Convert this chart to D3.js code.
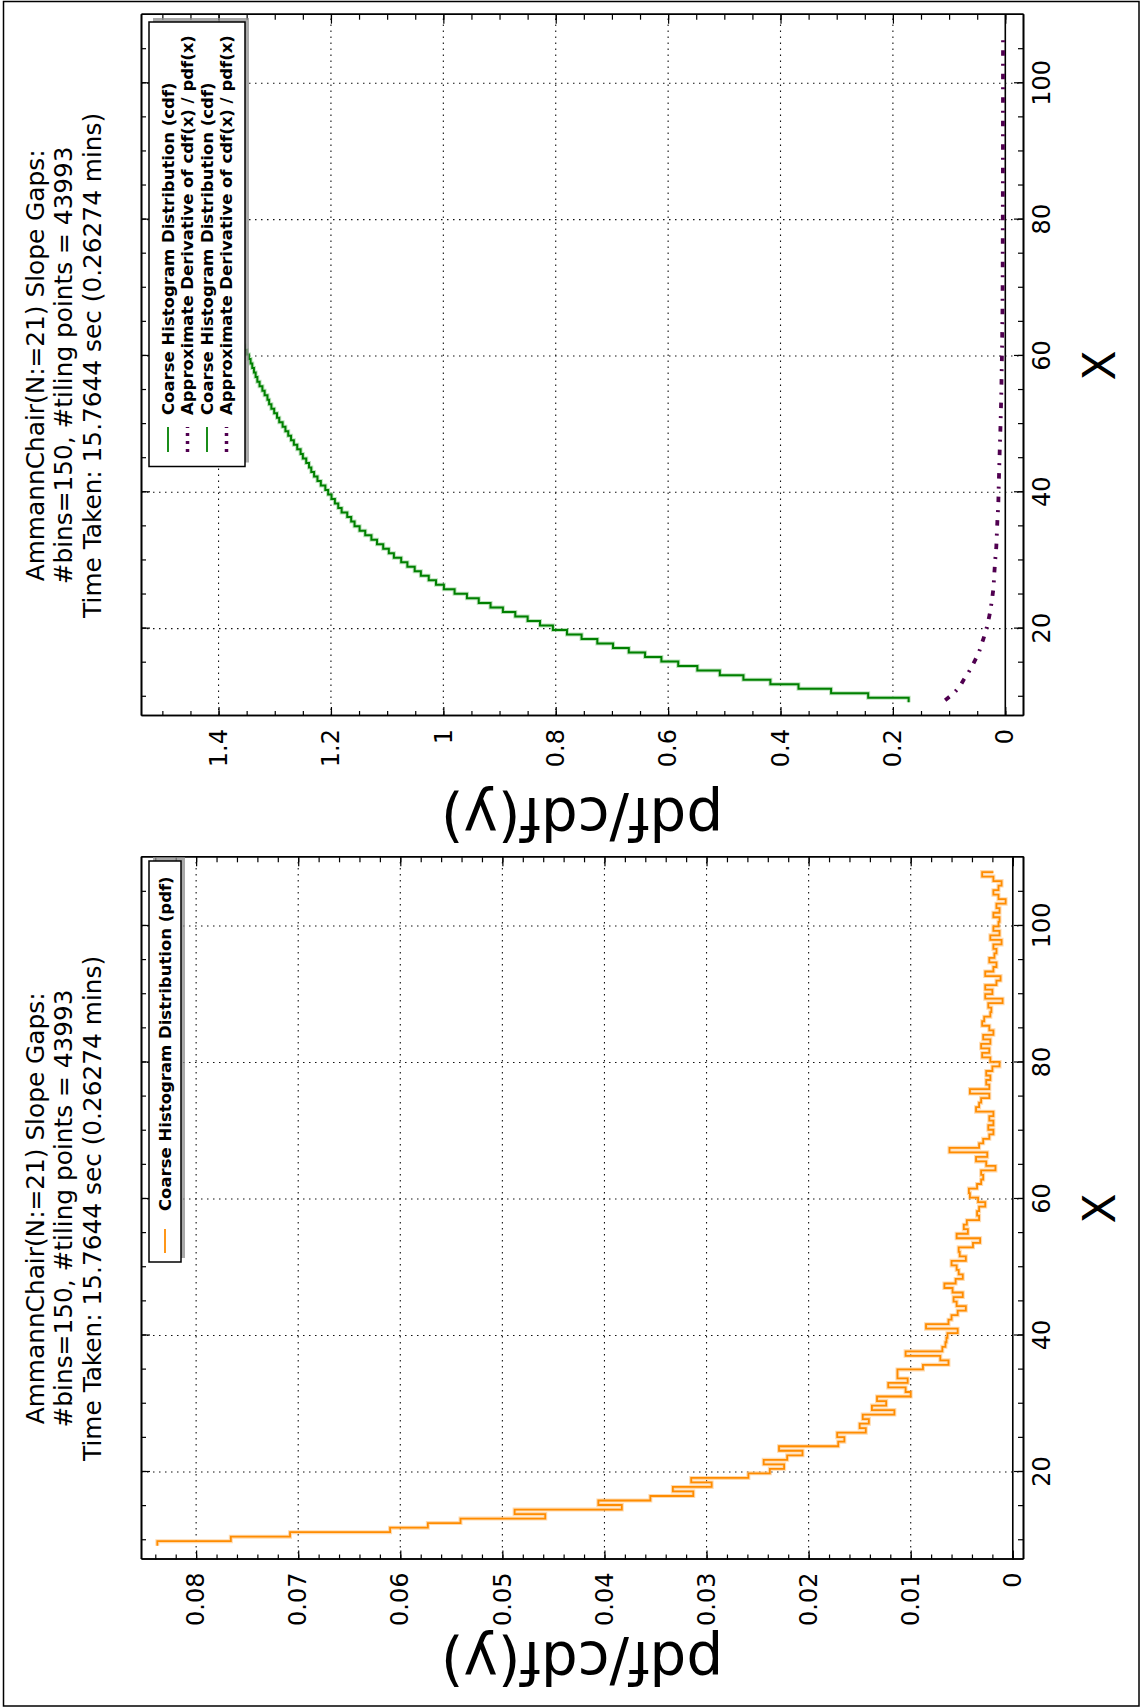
<!DOCTYPE html>
<html>
<head>
<meta charset="utf-8">
<script src="https://cdn.jsdelivr.net/npm/d3@7"></script>
<style>
  body { margin: 0; background: #fff; }
  svg { display: block; font-family: "DejaVu Sans", sans-serif; }
</style>
</head>
<body>
<svg id="chart" width="1142" height="1708"></svg>
<script>
// ---- data ----
const titleLines = [
  'AmmannChair(N:=21) Slope Gaps:',
  '#bins=150, #tiling points = 43993',
  'Time Taken: 15.7644 sec (0.26274 mins)'
];
const binStart = 9.2, binEnd = 107.9;
const xTicks = [20, 40, 60, 80, 100];
const pdfTicks = [0, 0.01, 0.02, 0.03, 0.04, 0.05, 0.06, 0.07, 0.08];
const cdfTicks = [0, 0.2, 0.4, 0.6, 0.8, 1, 1.2, 1.4];

// coarse histogram pdf, one value per bin
const pdfValues = [
  0.0838,0.0766,0.0708,0.0610,0.0573,0.0541,0.0458,0.0488,0.0383,0.0406,
  0.0355,0.0313,0.0333,0.0295,0.0315,0.0259,0.0238,0.0224,0.0244,0.0221,
  0.0206,0.0229,0.0171,0.0165,0.0172,0.0144,0.0150,0.0141,0.0147,0.0116,
  0.0138,0.0124,0.0133,0.0100,0.0105,0.0122,0.0103,0.0113,0.0113,0.0088,
  0.0063,0.0071,0.0105,0.0069,0.0066,0.0065,0.0064,0.0054,0.0085,0.0063,
  0.0060,0.0054,0.0046,0.0055,0.0058,0.0049,0.0059,0.0067,0.0056,0.0049,
  0.0053,0.0055,0.0060,0.0046,0.0052,0.0053,0.0039,0.0032,0.0055,0.0044,
  0.0048,0.0045,0.0033,0.0035,0.0033,0.0027,0.0034,0.0042,0.0043,0.0035,
  0.0031,0.0029,0.0031,0.0017,0.0026,0.0036,0.0025,0.0062,0.0033,0.0029,
  0.0023,0.0019,0.0024,0.0019,0.0023,0.0019,0.0036,0.0033,0.0031,0.0023,
  0.0042,0.0023,0.0026,0.0022,0.0026,0.0020,0.0013,0.0022,0.0030,0.0023,
  0.0031,0.0022,0.0029,0.0019,0.0023,0.0030,0.0028,0.0022,0.0021,0.0024,
  0.0010,0.0027,0.0020,0.0027,0.0016,0.0012,0.0027,0.0019,0.0016,0.0023,
  0.0018,0.0016,0.0019,0.0011,0.0022,0.0013,0.0019,0.0014,0.0013,0.0019,
  0.0013,0.0016,0.0007,0.0014,0.0019,0.0014,0.0011,0.0019,0.0030,0.0019
];

// coarse histogram cdf, one value per bin
const cdfValues = [
  0.172,0.244,0.310,0.368,0.418,0.466,0.508,0.548,0.582,0.612,
  0.641,0.670,0.698,0.726,0.754,0.780,0.805,0.828,0.850,0.872,
  0.894,0.916,0.937,0.958,0.980,0.999,1.013,1.026,1.040,1.051,
  1.064,1.075,1.088,1.097,1.107,1.118,1.128,1.139,1.149,1.158,
  1.164,1.171,1.181,1.187,1.193,1.199,1.205,1.210,1.218,1.224,
  1.230,1.235,1.239,1.244,1.250,1.254,1.260,1.266,1.271,1.276,
  1.281,1.286,1.292,1.296,1.301,1.306,1.310,1.313,1.318,1.322,
  1.327,1.331,1.334,1.337,1.340,1.343,1.346,1.350,1.354,1.357,
  1.360,1.363,1.366,1.368,1.370,1.374,1.376,1.382,1.385,1.388,
  1.390,1.392,1.394,1.396,1.398,1.400,1.403,1.406,1.409,1.411,
  1.415,1.419,1.422,1.424,1.426,1.428,1.430,1.432,1.434,1.437,
  1.439,1.442,1.444,1.447,1.449,1.451,1.454,1.456,1.458,1.460,
  1.463,1.464,1.467,1.469,1.472,1.473,1.474,1.477,1.479,1.481,
  1.483,1.485,1.486,1.488,1.489,1.491,1.493,1.495,1.496,1.497,
  1.499,1.500,1.502,1.503,1.504,1.506,1.507,1.508,1.510,1.513
];

// approximate derivative of cdf(x) / pdf(x)
const derivX = [9.5, 10.5, 11.5, 12.5, 13.5, 14.5, 15.5, 16.5, 17.5, 18.5,
  19.5, 20.5, 22, 24, 26, 28, 30, 32, 34, 36, 38, 40, 43, 46, 49, 52, 55,
  58, 61, 64, 67, 70, 74, 78, 82, 86, 90, 94, 98, 102, 106.5];
const derivY = [0.107, 0.092, 0.081, 0.074, 0.066, 0.059, 0.053, 0.047, 0.043, 0.039,
  0.035, 0.032, 0.028, 0.024, 0.021, 0.0196, 0.018, 0.016, 0.015, 0.014, 0.0125, 0.012,
  0.011, 0.010, 0.0088, 0.0078, 0.0070, 0.0064, 0.0058, 0.0054, 0.0050, 0.0048, 0.0046,
  0.0045, 0.0044, 0.0043, 0.0042, 0.0042, 0.0041, 0.0041, 0.0040];

const pdfLegend = ['Coarse Histogram Distribution (pdf)'];
const cdfLegend = [
  'Coarse Histogram Distribution (cdf)',
  'Approximate Derivative of cdf(x) / pdf(x)',
  'Coarse Histogram Distribution (cdf)',
  'Approximate Derivative of cdf(x) / pdf(x)'
];

// ---- drawing ----
const ORANGE = '#ff8c00', GREEN = '#008000', PURPLE = '#500050';
const binEdges = pdfValues.map((d, i) => binStart + i * (binEnd - binStart) / (pdfValues.length - 1));
const xDomain = [7.18, 110.06];

const svg = d3.select('#chart');
svg.append('rect')
  .attr('x', 3.5).attr('y', 1.5).attr('width', 1135.5).attr('height', 1704.5)
  .attr('fill', 'none').attr('stroke', '#000').attr('stroke-width', 1.5);

// the figure is laid out in landscape and turned on its side
const page = svg.append('g').attr('transform', 'translate(0,1708) rotate(-90)');

function panel(box, yDomain, yTicks, yMinorStep, yFmt) {
  const g = page.append('g');
  const x = d3.scaleLinear().domain(xDomain).range([box.left, box.right]);
  const y = d3.scaleLinear().domain(yDomain).range([box.bottom, box.top]);

  // dotted grid
  g.append('g').selectAll('line').data(xTicks).join('line')
    .attr('x1', d => x(d)).attr('x2', d => x(d))
    .attr('y1', box.top).attr('y2', box.bottom)
    .attr('stroke', '#111').attr('stroke-width', 1.1).attr('stroke-dasharray', '1.5,4.5');
  g.append('g').selectAll('line').data(yTicks.filter(d => d !== 0)).join('line')
    .attr('x1', box.left).attr('x2', box.right)
    .attr('y1', d => y(d)).attr('y2', d => y(d))
    .attr('stroke', '#111').attr('stroke-width', 1.1).attr('stroke-dasharray', '1.5,4.5');

  // zero line
  g.append('line')
    .attr('x1', box.left).attr('x2', box.right)
    .attr('y1', y(0)).attr('y2', y(0))
    .attr('stroke', '#000').attr('stroke-width', 1.6);

  const xMinor = d3.range(10, 110, 5);
  const yMinor = d3.range(0, yDomain[1], yMinorStep);

  const styleAxis = (a) => {
    a.attr('font-family', '"DejaVu Sans", sans-serif').attr('font-size', 24);
    a.select('.domain').attr('stroke', '#000').attr('stroke-width', 1.6);
    a.selectAll('.tick line').attr('stroke', '#000').attr('stroke-width', 1.2);
    a.selectAll('.tick text').attr('fill', '#000');
  };

  g.append('g').attr('transform', `translate(0,${box.bottom})`)
    .call(d3.axisBottom(x).tickValues(xMinor).tickSize(-5).tickSizeOuter(0).tickFormat(''))
    .call(styleAxis);
  g.append('g').attr('transform', `translate(0,${box.bottom})`)
    .call(d3.axisBottom(x).tickValues(xTicks).tickSize(-9).tickSizeOuter(0).tickPadding(10))
    .call(styleAxis);
  g.append('g').attr('transform', `translate(0,${box.top})`)
    .call(d3.axisTop(x).tickValues(xMinor).tickSize(-5).tickSizeOuter(0).tickFormat(''))
    .call(styleAxis);
  g.append('g').attr('transform', `translate(0,${box.top})`)
    .call(d3.axisTop(x).tickValues(xTicks).tickSize(-9).tickSizeOuter(0).tickFormat(''))
    .call(styleAxis);
  g.append('g').attr('transform', `translate(${box.left},0)`)
    .call(d3.axisLeft(y).tickValues(yMinor).tickSize(-5).tickSizeOuter(0).tickFormat(''))
    .call(styleAxis);
  g.append('g').attr('transform', `translate(${box.left},0)`)
    .call(d3.axisLeft(y).tickValues(yTicks).tickSize(-9).tickSizeOuter(0).tickPadding(13).tickFormat(yFmt))
    .call(styleAxis);
  g.append('g').attr('transform', `translate(${box.right},0)`)
    .call(d3.axisRight(y).tickValues(yMinor).tickSize(-5).tickSizeOuter(0).tickFormat(''))
    .call(styleAxis);
  g.append('g').attr('transform', `translate(${box.right},0)`)
    .call(d3.axisRight(y).tickValues(yTicks).tickSize(-9).tickSizeOuter(0).tickFormat(''))
    .call(styleAxis);

  // title
  const cx = (box.left + box.right) / 2;
  g.append('g').selectAll('text').data(titleLines).join('text')
    .attr('x', cx).attr('y', (d, i) => 43.5 + i * 28.8)
    .attr('text-anchor', 'middle').attr('font-size', 24.8).attr('fill', '#000')
    .text(d => d);

  // axis labels
  g.append('text')
    .attr('x', cx).attr('y', box.bottom + 92)
    .attr('text-anchor', 'middle').attr('font-size', 44).attr('fill', '#000')
    .text('X');
  g.append('text')
    .attr('transform', `translate(${box.left - 82},${(box.top + box.bottom) / 2}) rotate(-90)`)
    .attr('text-anchor', 'middle').attr('font-size', 58).attr('fill', '#000')
    .text('pdf/cdf(y)');

  return { g, x, y };
}

function legend(g, box, rows, hx0, hx1, tx) {
  const lg = g.append('g');
  lg.append('rect')
    .attr('x', box.x + 4).attr('y', box.y + 4).attr('width', box.w).attr('height', box.h)
    .attr('fill', '#8c8c8c').attr('opacity', 0.75);
  lg.append('rect')
    .attr('x', box.x).attr('y', box.y).attr('width', box.w).attr('height', box.h)
    .attr('fill', '#fff').attr('stroke', '#000').attr('stroke-width', 1.5);
  const r = lg.selectAll('g').data(rows).join('g')
    .attr('transform', d => `translate(0,${d.y})`);
  r.append('line')
    .attr('x1', hx0).attr('x2', hx1).attr('y1', 0).attr('y2', 0)
    .attr('stroke', d => d.color)
    .attr('stroke-width', d => d.dash ? 3.5 : 1.8)
    .attr('stroke-dasharray', d => d.dash || null);
  r.append('text')
    .attr('x', tx).attr('y', 0).attr('dy', '0.36em')
    .attr('font-size', 16.5).attr('font-weight', 'bold').attr('fill', '#000')
    .text(d => d.label);
}

const stepLine = (x, y) => d3.line()
  .x(d => x(d[0])).y(d => y(d[1]))
  .curve(d3.curveStepAfter);

// ---- pdf panel (lower on the page) ----
const pdfBox = { left: 148.5, right: 850.7, top: 141, bottom: 1023 };
const P = panel(pdfBox, [-0.001, 0.0854], pdfTicks, 0.002, d => d3.format('~g')(d));
const pdfPts = binEdges.map((e, i) => [e, pdfValues[i]]);
P.g.append('path').datum(pdfPts)
  .attr('d', stepLine(P.x, P.y))
  .attr('fill', 'none').attr('stroke', '#ffc27a').attr('stroke-width', 4).attr('opacity', 0.6);
P.g.append('path').datum(pdfPts)
  .attr('d', stepLine(P.x, P.y))
  .attr('fill', 'none').attr('stroke', ORANGE).attr('stroke-width', 1.8);
legend(P.g, { x: 446, y: 149, w: 401, h: 32 },
  pdfLegend.map(l => ({ label: l, color: ORANGE, y: 165 })), 455, 479, 497);

// ---- cdf panel (upper on the page) ----
const cdfBox = { left: 992, right: 1693.3, top: 141, bottom: 1023 };
const C = panel(cdfBox, [-0.0315, 1.538], cdfTicks, 0.05, d => d3.format('~g')(d));
const cdfPts = binEdges.map((e, i) => [e, cdfValues[i]]);
C.g.append('path').datum(cdfPts)
  .attr('d', stepLine(C.x, C.y))
  .attr('fill', 'none').attr('stroke', '#8fcf8f').attr('stroke-width', 4).attr('opacity', 0.6);
C.g.append('path').datum(cdfPts)
  .attr('d', stepLine(C.x, C.y))
  .attr('fill', 'none').attr('stroke', GREEN).attr('stroke-width', 2);
C.g.append('path').datum(derivX.map((d, i) => [d, derivY[i]]))
  .attr('d', d3.line().x(d => C.x(d[0])).y(d => C.y(d[1])))
  .attr('fill', 'none').attr('stroke', PURPLE).attr('stroke-width', 3.8)
  .attr('stroke-dasharray', '5.5,8,2,8');
const rowY = [168, 187.5, 207, 226.5];
legend(C.g, { x: 1241.5, y: 149, w: 444.5, h: 96 },
  cdfLegend.map((l, i) => ({
    label: l,
    color: i % 2 ? PURPLE : GREEN,
    dash: i % 2 ? '3,5' : null,
    y: rowY[i]
  })), 1256, 1281, 1293);
</script>
</body>
</html>
